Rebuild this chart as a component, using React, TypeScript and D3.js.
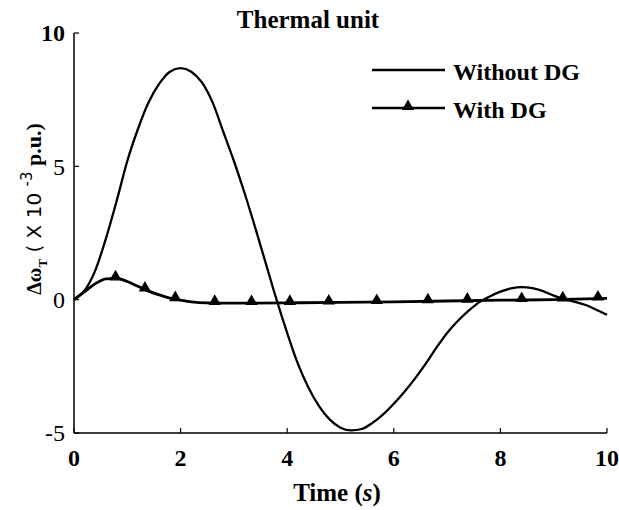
import React from "react";
import * as d3 from "d3";

const timeWithout = [0, 0.2, 0.4, 0.6, 0.8, 1.0, 1.2, 1.4, 1.6, 1.8, 2.0, 2.2, 2.4, 2.6, 2.8, 3.0, 3.2, 3.4, 3.6, 3.8, 4.0, 4.2, 4.4, 4.6, 4.8, 5.0, 5.2, 5.4, 5.6, 5.8, 6.0, 6.2, 6.4, 6.6, 6.8, 7.0, 7.2, 7.4, 7.6, 7.8, 8.0, 8.2, 8.4, 8.6, 8.8, 9.0, 9.2, 9.4, 9.6, 9.8, 10.0];
const valuesWithout = [0, 0.35, 1.1, 2.3, 3.7, 5.2, 6.4, 7.4, 8.1, 8.55, 8.68, 8.55, 8.15, 7.4, 6.3, 5.2, 4.0, 2.7, 1.35, 0, -1.25, -2.4, -3.3, -4.0, -4.5, -4.8, -4.9, -4.85, -4.62, -4.3, -3.9, -3.45, -2.95, -2.4, -1.8, -1.25, -0.8, -0.42, -0.1, 0.12, 0.3, 0.42, 0.47, 0.43, 0.32, 0.15, 0.02, -0.08, -0.2, -0.38, -0.57];

const timeWith = [0, 0.2, 0.4, 0.6, 0.8, 1.0, 1.2, 1.4, 1.6, 1.8, 2.0, 2.2, 2.5, 3, 4, 5, 6, 7, 8, 9, 10];
const valuesWith = [0, 0.3, 0.6, 0.78, 0.8, 0.68, 0.5, 0.32, 0.18, 0.06, -0.02, -0.08, -0.12, -0.13, -0.12, -0.1, -0.08, -0.05, -0.02, 0.0, 0.05];
const markerTimes = [0.78, 1.33, 1.9, 2.64, 3.33, 4.05, 4.78, 5.68, 6.64, 7.38, 8.4, 9.17, 9.83];

const xTicks = [0, 2, 4, 6, 8, 10];
const yTicks = [-5, 0, 5, 10];

const title = "Thermal unit";
const seriesNames = ["Without DG", "With DG"];

const serif = "'Liberation Serif', 'Times New Roman', serif";
const sans = "'DejaVu Sans', sans-serif";

export default function App() {
  const W = 619, H = 510;
  const x = d3.scaleLinear().domain([0, 10]).range([74, 607]);
  const y = d3.scaleLinear().domain([-5, 10]).range([433, 33]);

  const line = d3.line<[number, number]>().x(d => x(d[0])).y(d => y(d[1])).curve(d3.curveMonotoneX);
  const pathWithout = line(timeWithout.map((t, i) => [t, valuesWithout[i]]));
  const pathWith = line(timeWith.map((t, i) => [t, valuesWith[i]]));

  const interpWith = (t: number) => {
    const i = d3.bisectRight(timeWith, t) - 1;
    const j = Math.min(i + 1, timeWith.length - 1);
    if (i === j) return valuesWith[i];
    const f = (t - timeWith[i]) / (timeWith[j] - timeWith[i]);
    return valuesWith[i] + f * (valuesWith[j] - valuesWith[i]);
  };

  const tri = d3.symbol().type(d3.symbolTriangle).size(65)() as string;

  const x0 = x(0), yb = y(-5);

  return (
    <svg width={W} height={H} style={{ position: "absolute", left: 0, top: 0, background: "#fff" }}>
      <rect width={W} height={H} fill="#fff" />
      {/* axes */}
      <line x1={x0} x2={x0} y1={y(10)} y2={yb} stroke="#000" strokeWidth={1.5} />
      <line x1={x0} x2={x(10)} y1={yb} y2={yb} stroke="#000" strokeWidth={1.5} />
      {yTicks.map(v => (
        <g key={"yt" + v}>
          <line x1={x0} x2={x0 + 5} y1={y(v)} y2={y(v)} stroke="#000" strokeWidth={1.2} />
          <text x={x0 - 9} y={y(v)} dy="0.35em" textAnchor="end" fontFamily={serif} fontWeight={v === 10 ? "bold" : "normal"} fontSize={24}>{v}</text>
        </g>
      ))}
      {xTicks.map(v => (
        <g key={"xt" + v}>
          <line x1={x(v)} x2={x(v)} y1={yb} y2={yb - 5} stroke="#000" strokeWidth={1.2} />
          <text x={x(v)} y={yb + 33} textAnchor="middle" fontFamily={serif} fontWeight="bold" fontSize={24}>{v}</text>
        </g>
      ))}
      {/* title */}
      <text x={308} y={28} textAnchor="middle" fontFamily={serif} fontWeight="bold" fontSize={25}>{title}</text>
      {/* x label */}
      <text x={337} y={501} textAnchor="middle" fontFamily={serif} fontWeight="bold" fontSize={25}>
        Time (<tspan fontStyle="italic">s</tspan>)
      </text>
      {/* y label */}
      <text transform="translate(41,209) rotate(-90)" textAnchor="middle">
        <tspan fontFamily={serif} fontWeight="bold" fontSize={20}>Δω</tspan>
        <tspan fontFamily={serif} fontWeight="bold" fontSize={13} dy="6">T</tspan>
        <tspan fontFamily={sans} fontSize={20} dy="-6"> ( X 10 </tspan>
        <tspan fontFamily={sans} fontSize={15} dy="-9">-3</tspan>
        <tspan fontFamily={serif} fontWeight="bold" fontSize={22} dy="9"> p.u.)</tspan>
      </text>
      {/* curves */}
      <path d={pathWithout ?? ""} fill="none" stroke="#000" strokeWidth={2.3} />
      <path d={pathWith ?? ""} fill="none" stroke="#000" strokeWidth={2.8} />
      {markerTimes.map((t, i) => (
        <path key={"m" + i} d={tri} transform={`translate(${x(t)},${y(interpWith(t)) - 1.5})`} fill="#000" />
      ))}
      {/* legend */}
      <line x1={372} x2={445} y1={70} y2={70} stroke="#000" strokeWidth={2.6} />
      <text x={453} y={80} fontFamily={serif} fontWeight="bold" fontSize={24}>{seriesNames[0]}</text>
      <line x1={372} x2={445} y1={108} y2={108} stroke="#000" strokeWidth={2.6} />
      <path d={tri} transform={`translate(408,106.5)`} fill="#000" />
      <text x={453} y={118} fontFamily={serif} fontWeight="bold" fontSize={24}>{seriesNames[1]}</text>
    </svg>
  );
}
